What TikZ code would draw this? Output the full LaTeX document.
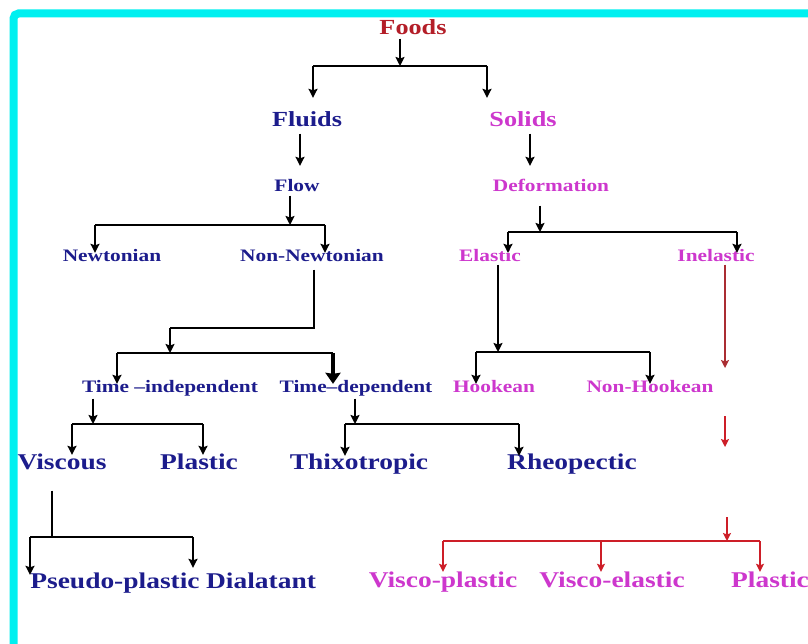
\documentclass[tikz,border=0pt]{standalone}
\usepackage{fontspec}
\newfontfamily\chartfont{Liberation Serif}[FakeStretch=1.22]
\usepackage{xcolor}
\usetikzlibrary{arrows.meta, calc}

\definecolor{foodred}{RGB}{180,30,40}
\definecolor{fluidblue}{RGB}{28,28,140}
\definecolor{solidpink}{RGB}{205,55,205}
\definecolor{arrowred}{RGB}{205,30,40}
\definecolor{darkred}{RGB}{170,45,50}
\definecolor{framecyan}{RGB}{0,240,240}

\begin{document}
\begin{tikzpicture}[
    x=1bp, y=-1bp,
    toptext/.style={anchor=base, inner sep=1bp, text height=0.7em, text depth=0.25em, font=\chartfont\bfseries\fontsize{21.5bp}{25bp}\selectfont},
    midtext/.style={toptext, font=\chartfont\bfseries\fontsize{17.5bp}{21bp}\selectfont},
    lowtext/.style={toptext, font=\chartfont\bfseries\fontsize{22.5bp}{26bp}\selectfont},
    bar/.style={line width=1.5bp},
    thinline/.style={line width=1.2bp},
    arrow/.style={line width=2bp, ->, >={Stealth[length=9bp, width=9bp, inset=1.5bp]}},
    bigarrow/.style={line width=4bp, ->, >={Stealth[length=11bp, width=15bp, inset=1bp]}},
    redarrow/.style={line width=1.5bp, color=arrowred, ->, >={Stealth[length=8bp, width=8bp, inset=1.5bp]}}
]
    \useasboundingbox (0,0) rectangle (808,644);
    \fill[white] (0,0) rectangle (808,644);

    % Frame
    \draw[framecyan, line width=8bp, rounded corners=5bp] (13.5,700) -- (13.5,13.5) -- (860,13.5);

    % Root
    \node (foods) [toptext, text=foodred] at (413,35) {Foods};

    % Fluids / Solids
    \node (fluids) [toptext, text=fluidblue] at (307,127) {Fluids};
    \node (solids) [toptext, text=solidpink] at (523,127) {Solids};

    % Flow / Deformation
    \node (flow) [midtext, text=fluidblue] at (297,192) {Flow};
    \node (deform) [midtext, text=solidpink] at (551,192) {Deformation};

    % Newtonian branch and elastic branch
    \node (newt) [midtext, text=fluidblue] at (112,261) {Newtonian};
    \node (nonnewt) [midtext, text=fluidblue] at (312,261) {Non-Newtonian};
    \node (elastic) [midtext, text=solidpink] at (490,261) {Elastic};
    \node (inelastic) [midtext, text=solidpink] at (716,261) {Inelastic};

    % Time behaviour and Hookean
    \node (timeind) [midtext, text=fluidblue] at (170,392) {Time –independent};
    \node (timedep) [midtext, text=fluidblue] at (356,392) {Time–dependent};
    \node (hookean) [midtext, text=solidpink] at (494,392) {Hookean};
    \node (nonhook) [midtext, text=solidpink] at (650,392) {Non-Hookean};

    % Fluid types
    \node (viscous) [lowtext, text=fluidblue] at (62,469) {Viscous};
    \node (plastic) [lowtext, text=fluidblue] at (199,469) {Plastic};
    \node (thixo) [lowtext, text=fluidblue] at (359,469) {Thixotropic};
    \node (rheo) [lowtext, text=fluidblue] at (572,469) {Rheopectic};

    % Bottom row
    \node (pseudo) [lowtext, text=fluidblue] at (115,588) {Pseudo-plastic};
    \node (dilat) [lowtext, text=fluidblue] at (261,588) {Dialatant};
    \node (viscoplas) [lowtext, text=solidpink] at (443,587) {Visco-plastic};
    \node (viscoelas) [lowtext, text=solidpink] at (612,587) {Visco-elastic};
    \node (plastictwo) [lowtext, text=solidpink] at (770,587) {Plastic};

    % Junctions
    \coordinate (ja) at (400,66);  \coordinate (jal) at (313,66);  \coordinate (jar) at (487,66);
    \coordinate (jb) at (290,225); \coordinate (jbl) at (95,225);  \coordinate (jbr) at (325,225);
    \coordinate (jc) at (540,232); \coordinate (jcl) at (508,232); \coordinate (jcr) at (737,232);
    \coordinate (jk) at (170,328); \coordinate (jd) at (170,353);
    \coordinate (jdl) at (117,353); \coordinate (jdr) at (333,353);
    \coordinate (je) at (498,352); \coordinate (jel) at (476,352); \coordinate (jer) at (650,352);
    \coordinate (jf) at (93,424);  \coordinate (jfl) at (72,424);  \coordinate (jfr) at (203,424);
    \coordinate (jg) at (355,424); \coordinate (jgl) at (345,424); \coordinate (jgr) at (519,424);
    \coordinate (jh) at (52,537);  \coordinate (jhl) at (30,537);  \coordinate (jhr) at (193,537);
    \coordinate (ri) at (725,368);
    \coordinate (rma) at (725,416); \coordinate (rmb) at (725,447);
    \coordinate (rs) at (727,517); \coordinate (jr) at (727,541);
    \coordinate (jrl) at (443,541); \coordinate (jrm) at (601,541); \coordinate (jrr) at (760,541);

    % Foods split
    \draw [arrow] (foods.south -| ja) -- (ja);
    \draw [bar] (jal) -- (jar);
    \draw [arrow] (jal) -- ($(jal |- fluids.north)+(0,-21)$);
    \draw [arrow] (jar) -- ($(jar |- solids.north)+(0,-21)$);

    % Fluids side
    \draw [arrow] ($(fluids.south)+(-7,3)$) -- ($(flow.north)+(3,-18)$);
    \draw [arrow] (flow.south -| jb) -- (jb);
    \draw [bar] (jbl) -- (jbr);
    \draw [arrow] (jbl) -- (jbl |- newt.north);
    \draw [arrow] (jbr) -- (jbr |- nonnewt.north);
    \draw [thinline] ($(nonnewt.south)+(2,5)$) |- (jk);
    \draw [arrow] (jk) -- (jd);
    \draw [bar] (jdl) -- (jdr);
    \draw [arrow] (jdl) -- (jdl |- timeind.north);
    \draw [bigarrow] (jdr) -- (jdr |- timedep.north);
    \draw [arrow, shorten <=3bp] (timeind.south -| jf) -- (jf);
    \draw [bar] (jfl) -- (jfr);
    \draw [arrow, shorten >=6bp] (jfl) -- (jfl |- viscous.north);
    \draw [arrow, shorten >=6bp] (jfr) -- (jfr |- plastic.north);
    \draw [arrow, shorten <=3bp] (timedep.south -| jg) -- (jg);
    \draw [bar] (jgl) -- (jgr);
    \draw [arrow, shorten >=5bp] (jgl) -- (jgl |- thixo.north);
    \draw [arrow, shorten >=5bp] (jgr) -- (jgr |- rheo.north);
    \draw [thinline] ($(viscous.south)+(-10,18)$) -- (jh);
    \draw [bar] (jhl) -- (jhr);
    \draw [arrow, shorten >=5bp] (jhl) -- (jhl |- pseudo.north);
    \draw [arrow, shorten >=12bp] (jhr) -- (jhr |- dilat.north);

    % Solids side
    \draw [arrow] ($(solids.south)+(7,3)$) -- ($(deform.north)+(-21,-18)$);
    \draw [arrow, shorten <=10bp] (deform.south -| jc) -- (jc);
    \draw [bar] (jcl) -- (jcr);
    \draw [arrow] (jcl) -- (jcl |- elastic.north);
    \draw [arrow] (jcr) -- (jcr |- inelastic.north);
    \draw [arrow] ($(elastic.south)+(8,0)$) -- (je);
    \draw [bar] (jel) -- (jer);
    \draw [arrow] (jel) -- (jel |- hookean.north);
    \draw [arrow] (jer) -- (jer |- nonhook.north);

    % Inelastic chain
    \draw [redarrow, color=darkred] (inelastic.south -| ri) -- (ri);
    \draw [redarrow] (rma) -- (rmb);
    \draw [redarrow] (rs) -- (jr);
    \draw [bar, arrowred] (jrl) -- (jrr);
    \draw [redarrow, shorten >=7bp] (jrl) -- (jrl |- viscoplas.north);
    \draw [redarrow, shorten >=7bp] (jrm) -- (jrm |- viscoelas.north);
    \draw [redarrow, shorten >=7bp] (jrr) -- (jrr |- plastictwo.north);

\end{tikzpicture}
\end{document}
